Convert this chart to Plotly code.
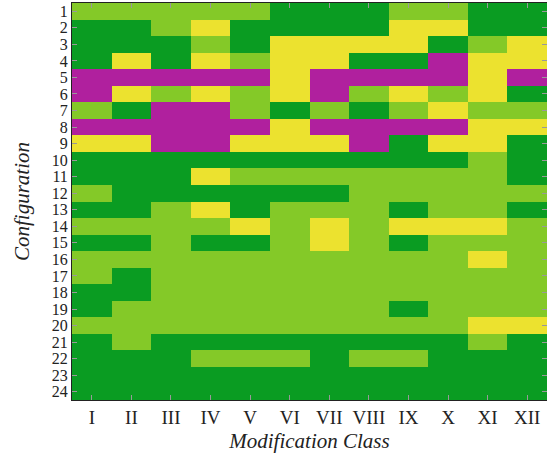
import plotly.graph_objects as go

classes = ["I", "II", "III", "IV", "V", "VI", "VII", "VIII", "IX", "X", "XI", "XII"]
configurations = list(range(1, 25))

# M = magenta, Y = yellow, L = light green, D = dark green
grid = [
    "L L L L L D D D L L D D",
    "D D L Y D D D D Y Y D D",
    "D D D L D Y Y Y Y D L Y",
    "D Y D Y L Y Y D D M Y Y",
    "M M M M M Y M M M M Y M",
    "M Y L Y L Y M L Y L Y D",
    "L D M M L D L D L Y L L",
    "M M M M M Y M M M M Y Y",
    "Y Y M M Y Y Y M D Y Y D",
    "D D D D D D D D D D L D",
    "D D D Y L L L L L L L D",
    "L D D D D D D L L L L L",
    "D D L Y D L L L D L L D",
    "L L L L Y L Y L Y Y Y L",
    "D D L D D L Y L D L L L",
    "L L L L L L L L L L Y L",
    "L D L L L L L L L L L L",
    "D D L L L L L L L L L L",
    "D L L L L L L L D L L L",
    "L L L L L L L L L L Y Y",
    "D L D D D D D D D D L D",
    "D D D L L L D L L D D D",
    "D D D D D D D D D D D D",
    "D D D D D D D D D D D D",
]
level = {"M": 0, "Y": 1, "L": 2, "D": 3}
z = [[level[c] for c in row.split()] for row in grid]

MAG, YEL, LGR, DGR = "#b0209e", "#ece22f", "#84c928", "#0a9c22"
colorscale = [
    [0.0, MAG], [1/6, MAG], [1/6, YEL], [0.5, YEL],
    [0.5, LGR], [5/6, LGR], [5/6, DGR], [1.0, DGR],
]

fig = go.Figure(go.Heatmap(
    z=z, x=classes, y=configurations,
    zmin=0, zmax=3, colorscale=colorscale, showscale=False,
    hoverongaps=False,
))

font = "Liberation Serif, Times New Roman, serif"
fig.update_layout(
    width=547, height=461,
    margin=dict(l=72, r=0, t=3, b=61),
    paper_bgcolor="white", plot_bgcolor="white",
    font=dict(family=font, size=18, color="#222"),
)
fig.update_xaxes(
    type="category", showline=True, linecolor="#222", linewidth=1, mirror="allticks",
    ticks="inside", ticklen=5, tickcolor="#999", tickwidth=1,
    tickfont=dict(size=19), automargin=False,
    title=dict(text="<i>Modification Class</i>", font=dict(size=21), standoff=6),
    showgrid=False, zeroline=False,
)
fig.update_yaxes(
    autorange="reversed", tickmode="array", tickvals=configurations,
    ticktext=[str(c) for c in configurations],
    showline=True, linecolor="#222", linewidth=1, mirror="allticks",
    ticks="inside", ticklen=5, tickcolor="#999", tickwidth=1,
    tickfont=dict(size=16), automargin=False,
    title=dict(text="<i>Configuration</i>", font=dict(size=21), standoff=16),
    showgrid=False, zeroline=False,
)

fig.write_html(
    "out.html",
    config={"displayModeBar": False},
    post_script="document.body.style.margin='0px';",
)
